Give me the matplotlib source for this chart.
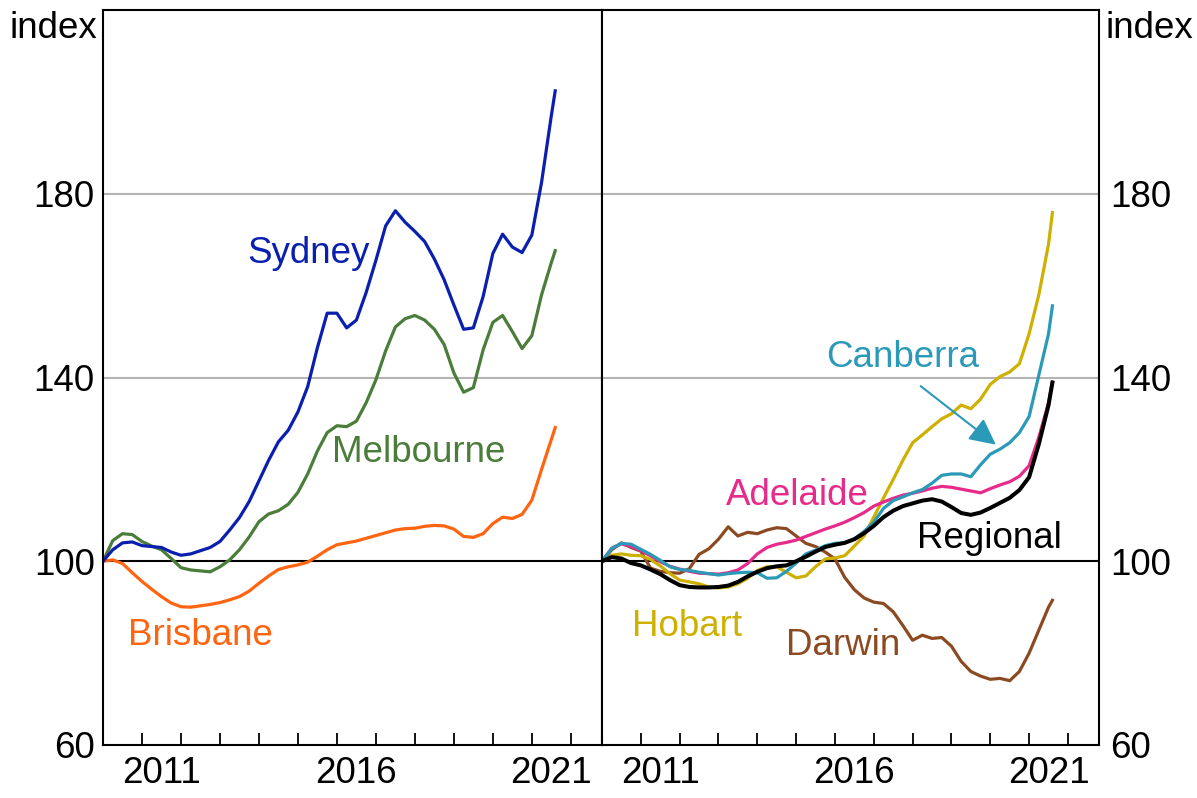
# Dwelling price indices by city, two panels sharing the y scale (index, Jan 2010 = 100)

import numpy as np
import matplotlib
matplotlib.use('Agg')
import matplotlib.pyplot as plt
from matplotlib.ticker import FixedLocator, NullFormatter

plt.rcParams['font.family'] = ['Liberation Sans', 'DejaVu Sans']

# ---------- Data (quarterly + last obs) ----------

dates = [2010.0, 2010.25, 2010.5, 2010.75, 2011.0, 2011.25, 2011.5, 2011.75,
         2012.0, 2012.25, 2012.5, 2012.75, 2013.0, 2013.25, 2013.5, 2013.75,
         2014.0, 2014.25, 2014.5, 2014.75, 2015.0, 2015.25, 2015.5, 2015.75,
         2016.0, 2016.25, 2016.5, 2016.75, 2017.0, 2017.25, 2017.5, 2017.75,
         2018.0, 2018.25, 2018.5, 2018.75, 2019.0, 2019.25, 2019.5, 2019.75,
         2020.0, 2020.25, 2020.5, 2020.75, 2021.0, 2021.25, 2021.5, 2021.6]

sydney = [100, 102.5, 104, 104.2, 103.4, 103.2, 103, 102, 101.3, 101.6, 102.3, 103,
          104.3, 106.8, 109.5, 113, 117.5, 122, 126, 128.5, 132.5, 138, 146.5, 154,
          154, 150.8, 152.5, 158.5, 165.5, 173, 176.3, 173.8, 171.8, 169.6, 165.8, 161.3,
          155.8, 150.5, 150.8, 157.6, 167, 171.2, 168.4, 167.2, 171, 182.5, 197, 202.4]
melbourne = [100, 104.5, 106, 105.8, 104.3, 103.3, 102.5, 100.6, 98.6, 98.1, 97.9, 97.7,
             98.8, 100.3, 102.5, 105.3, 108.6, 110.3, 111, 112.4, 115, 119, 124, 128,
             129.5, 129.3, 130.5, 134.5, 139.5, 145.8, 151, 152.8, 153.5, 152.5, 150.5, 147.2,
             141, 136.8, 137.8, 146, 152, 153.5, 150, 146.3, 149.1, 158, 165, 167.6]
brisbane = [100, 100.3, 99.5, 97.5, 95.6, 93.9, 92.3, 90.9, 90.1, 90, 90.3, 90.6,
            91, 91.6, 92.3, 93.5, 95.2, 96.8, 98.2, 98.8, 99.2, 99.8, 101.1, 102.5,
            103.6, 104, 104.4, 105, 105.6, 106.2, 106.8, 107.1, 107.2, 107.6, 107.8, 107.7,
            107, 105.4, 105.2, 106, 108.2, 109.6, 109.3, 110.2, 113.3, 120, 126.5, 129.1]

canberra = [100, 102.8, 103.9, 103.7, 102.6, 101.5, 100.2, 98.8, 98.2, 98, 97.6, 97.3,
            97, 97.3, 97.5, 97.6, 97.5, 96.3, 96.4, 97.8, 99.6, 101.6, 102.4, 103.4,
            103.9, 104, 104.9, 106.5, 108.5, 111.5, 113.2, 114, 114.9, 115.6, 117, 118.7,
            119, 119, 118.4, 121, 123.3, 124.4, 125.8, 128, 131.5, 140.5, 149.5, 155.6]
adelaide = [100, 102.8, 103.8, 103.2, 102.3, 101.2, 99.9, 98.9, 98.3, 97.8, 97.4, 97.3,
            97.2, 97.5, 98.1, 99.5, 101.6, 103, 103.7, 104.1, 104.6, 105.4, 106.2, 107,
            107.7, 108.5, 109.5, 110.6, 112, 112.9, 113.7, 114.4, 114.8, 115.3, 115.9, 116.3,
            116.1, 115.7, 115.3, 114.9, 115.8, 116.6, 117.3, 118.5, 120.8, 127, 134.5, 139]
hobart = [100, 101.3, 101.6, 101.3, 101.2, 100.4, 99, 97.3, 95.9, 95.5, 95.1, 94.4,
          94.2, 94.4, 95.1, 96.3, 98, 98.8, 98.8, 97.6, 96.4, 96.8, 98.8, 100.5,
          100.7, 101.2, 103.3, 105.5, 109.6, 113.8, 117.8, 122, 125.8, 127.5, 129.3, 131,
          132.1, 134, 133.2, 135.3, 138.5, 140.2, 141.2, 143, 149.5, 158, 169, 175.9]
darwin = [100, 102.5, 104, 103, 102.2, 98.5, 97.8, 97.5, 97.4, 98.4, 101.5, 102.7,
          104.8, 107.5, 105.5, 106.3, 106, 106.8, 107.3, 107.1, 105.5, 103.9, 103.2, 102,
          100.5, 96.5, 93.8, 92, 91.1, 90.8, 89, 86, 82.8, 83.9, 83.2, 83.4,
          81.5, 78.2, 76, 75, 74.3, 74.5, 74, 76, 80, 85, 90, 91.5]
regional = [100, 100.9, 100.6, 99.6, 99.1, 98.2, 97.2, 95.9, 94.8, 94.4, 94.3, 94.3,
            94.4, 94.7, 95.5, 96.7, 97.7, 98.5, 98.9, 99.1, 100, 101, 102.1, 103.1,
            103.6, 104, 104.8, 106.1, 107.7, 109.6, 111, 112, 112.6, 113.2, 113.5, 113,
            111.8, 110.5, 110.1, 110.6, 111.6, 112.7, 113.8, 115.5, 118.3, 125.5, 134, 138.9]

yticks = [60, 100, 140, 180]
year_labels = {2011: '2011', 2016: '2016', 2021: '2021'}

# ---------- Style ----------

c_syd = '#0a1fae'
c_mel = '#4a7c3a'
c_bri = '#ff6410'
c_can = '#2b9ab8'
c_ade = '#e62b8a'
c_hob = '#cdb000'
c_dar = '#8b4a22'
c_reg = 'black'
fs = 26.5
lw = 2.3

fig = plt.figure(figsize=(11.97, 7.98), dpi=100)
bottom = 1 - 745 / 798
height = (745 - 10) / 798
axL = fig.add_axes([103 / 1197, bottom, (602 - 103) / 1197, height])
axR = fig.add_axes([602 / 1197, bottom, (1099 - 602) / 1197, height])

def style(ax, side):
    ax.set_xlim(2010.0, 2022.8)
    ax.set_ylim(60, 220)
    ax.set_yticks(yticks)
    for v in [140, 180]:
        ax.axhline(v, color='#b4b4b4', lw=1.5, zorder=0)
    ax.axhline(100, color='black', lw=1.5, zorder=1)
    ax.xaxis.set_major_locator(FixedLocator(range(2011, 2023)))
    ax.xaxis.set_major_formatter(NullFormatter())
    ax.xaxis.set_minor_locator(FixedLocator([y + 0.5 for y in year_labels]))
    ax.set_xticklabels([year_labels[y] for y in year_labels], minor=True)
    ax.tick_params(axis='x', which='major', direction='in', length=9, width=1.3)
    ax.tick_params(axis='x', which='minor', length=0, labelsize=fs, pad=8)
    ax.tick_params(axis='y', length=0, labelsize=fs, pad=6)
    if side == 'right':
        ax.yaxis.tick_right()
        ax.tick_params(axis='y', pad=8)
    for s in ax.spines.values():
        s.set_linewidth(1.5)

style(axL, 'left')
style(axR, 'right')

# ---------- Left panel ----------

axL.plot(dates, brisbane, color=c_bri, lw=lw)
axL.plot(dates, melbourne, color=c_mel, lw=lw)
axL.plot(dates, sydney, color=c_syd, lw=lw)
axL.text(2015.26, 167, 'Sydney', color=c_syd, fontsize=fs, ha='center', va='center')
axL.text(2018.1, 123.7, 'Melbourne', color=c_mel, fontsize=fs, ha='center', va='center')
axL.text(2012.49, 83.9, 'Brisbane', color=c_bri, fontsize=fs, ha='center', va='center')

# ---------- Right panel ----------

axR.plot(dates, darwin, color=c_dar, lw=lw)
axR.plot(dates, hobart, color=c_hob, lw=lw)
axR.plot(dates, adelaide, color=c_ade, lw=lw)
axR.plot(dates, canberra, color=c_can, lw=lw)
axR.plot(dates, regional, color=c_reg, lw=2.9)
axR.text(2017.74, 144.3, 'Canberra', color=c_can, fontsize=fs, ha='center', va='center')
axR.text(2015.03, 114.3, 'Adelaide', color=c_ade, fontsize=fs, ha='center', va='center')
axR.text(2019.97, 105, 'Regional', color=c_reg, fontsize=fs, ha='center', va='center')
axR.text(2012.2, 85.7, 'Hobart', color=c_hob, fontsize=fs, ha='center', va='center')
axR.text(2016.2, 81.7, 'Darwin', color=c_dar, fontsize=fs, ha='center', va='center')
axR.annotate('', xy=(2020.2, 125.0), xytext=(2018.15, 138.5),
             arrowprops=dict(arrowstyle='-|>', color=c_can, lw=1.5, mutation_scale=40))

fig.text(97 / 1197, 1 - 28 / 798, 'index', fontsize=fs, ha='right', va='center')
fig.text(1106 / 1197, 1 - 28 / 798, 'index', fontsize=fs, ha='left', va='center')

fig.savefig('out.png', dpi=100)
